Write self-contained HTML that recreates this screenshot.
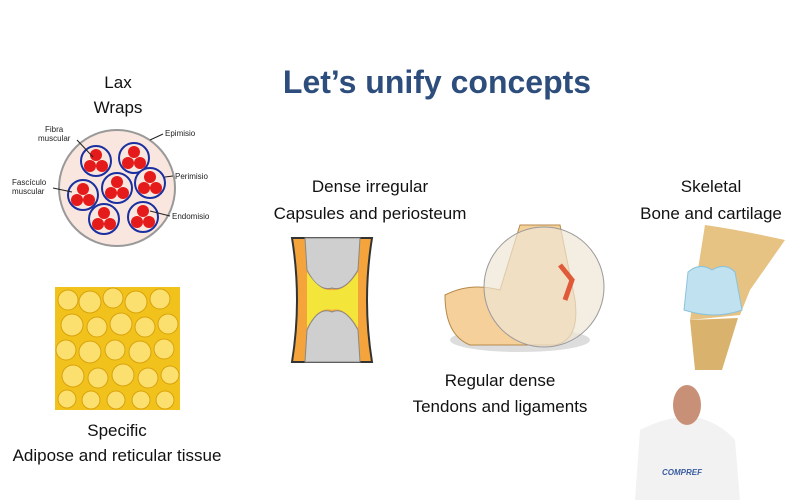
<!DOCTYPE html>
<html><head><style>
body{margin:0;width:800px;height:500px;background:#fff;overflow:hidden;position:relative;font-family:"Liberation Sans",sans-serif}
.t{position:absolute;transform:translateX(-50%);white-space:nowrap;font-size:17px;color:#111}
</style></head><body>
<div class="t" style="left:437px;top:64px;font-size:32px;font-weight:bold;color:#2d4d7c">Let’s unify concepts</div>
<div class="t" style="left:118px;top:73px">Lax</div>
<div class="t" style="left:118px;top:98px">Wraps</div>
<div class="t" style="left:370px;top:177px">Dense irregular</div>
<div class="t" style="left:370px;top:204px">Capsules and periosteum</div>
<div class="t" style="left:711px;top:177px">Skeletal</div>
<div class="t" style="left:711px;top:204px">Bone and cartilage</div>
<div class="t" style="left:500px;top:371px">Regular dense</div>
<div class="t" style="left:500px;top:397px">Tendons and ligaments</div>
<div class="t" style="left:117px;top:421px">Specific</div>
<div class="t" style="left:117px;top:446px">Adipose and reticular tissue</div>
<svg width="800" height="500" style="position:absolute;left:0;top:0">
<g font-size="8" fill="#222" font-family="Liberation Sans">
<circle cx="117" cy="188" r="58" fill="#f9e6de" stroke="#999" stroke-width="2"/>
<g stroke="#1a2fa0" stroke-width="2" fill="#f9e6de">
<circle cx="96" cy="161" r="15"/><circle cx="134" cy="158" r="15"/>
<circle cx="83" cy="195" r="15"/><circle cx="117" cy="188" r="15"/><circle cx="150" cy="183" r="15"/>
<circle cx="104" cy="219" r="15"/><circle cx="143" cy="217" r="15"/></g>
<g fill="#e51a1a">
<circle cx="96" cy="155" r="6"/><circle cx="90" cy="166" r="6"/><circle cx="102" cy="166" r="6"/>
<circle cx="134" cy="152" r="6"/><circle cx="128" cy="163" r="6"/><circle cx="140" cy="163" r="6"/>
<circle cx="83" cy="189" r="6"/><circle cx="77" cy="200" r="6"/><circle cx="89" cy="200" r="6"/>
<circle cx="117" cy="182" r="6"/><circle cx="111" cy="193" r="6"/><circle cx="123" cy="193" r="6"/>
<circle cx="150" cy="177" r="6"/><circle cx="144" cy="188" r="6"/><circle cx="156" cy="188" r="6"/>
<circle cx="104" cy="213" r="6"/><circle cx="98" cy="224" r="6"/><circle cx="110" cy="224" r="6"/>
<circle cx="143" cy="211" r="6"/><circle cx="137" cy="222" r="6"/><circle cx="149" cy="222" r="6"/></g>
<g stroke="#222" stroke-width="1"><line x1="77" y1="140" x2="93" y2="157"/><line x1="150" y1="140" x2="163" y2="134"/><line x1="165" y1="177" x2="173" y2="176"/><line x1="150" y1="211" x2="170" y2="216"/><line x1="53" y1="188" x2="72" y2="192"/></g>
<text x="45" y="132">Fibra</text><text x="38" y="141">muscular</text>
<text x="165" y="136">Epimisio</text><text x="175" y="179">Perimisio</text><text x="172" y="219">Endomisio</text>
<text x="12" y="185">Fascículo</text><text x="12" y="194">muscular</text></g>
<rect x="55" y="287" width="125" height="123" fill="#f2c21c"/>
<g fill="#fbe070" stroke="#d9a20a" stroke-width="1">
<circle cx="68" cy="300" r="10"/><circle cx="90" cy="302" r="11"/><circle cx="113" cy="298" r="10"/><circle cx="136" cy="302" r="11"/><circle cx="160" cy="299" r="10"/>
<circle cx="72" cy="325" r="11"/><circle cx="97" cy="327" r="10"/><circle cx="121" cy="324" r="11"/><circle cx="145" cy="327" r="10"/><circle cx="168" cy="324" r="10"/>
<circle cx="66" cy="350" r="10"/><circle cx="90" cy="352" r="11"/><circle cx="115" cy="350" r="10"/><circle cx="140" cy="352" r="11"/><circle cx="164" cy="349" r="10"/>
<circle cx="73" cy="376" r="11"/><circle cx="98" cy="378" r="10"/><circle cx="123" cy="375" r="11"/><circle cx="148" cy="378" r="10"/><circle cx="170" cy="375" r="9"/>
<circle cx="67" cy="399" r="9"/><circle cx="91" cy="400" r="9"/><circle cx="116" cy="400" r="9"/><circle cx="141" cy="400" r="9"/><circle cx="165" cy="400" r="9"/></g>
<path d="M292 238 Q302 300 292 362 L372 362 Q362 300 372 238 Z" fill="#f4a43a" stroke="#333" stroke-width="2"/>
<path d="M305 238 L360 238 L358 270 Q345 292 332 288 Q318 292 307 270 Z" fill="#cfcfcf" stroke="#888"/>
<path d="M307 330 Q318 306 332 312 Q345 306 358 330 L360 362 L305 362 Z" fill="#cfcfcf" stroke="#888"/>
<path d="M307 272 Q320 292 332 290 Q345 292 358 272 L358 328 Q345 306 332 310 Q318 306 307 328 Z" fill="#f3e53a"/>
<ellipse cx="520" cy="340" rx="70" ry="12" fill="#ddd"/>
<path d="M445 295 Q470 282 500 290 L520 225 L560 225 L575 300 Q580 340 555 345 L470 345 Q445 335 445 295 Z" fill="#f6d09a" stroke="#b58a4a"/>
<circle cx="544" cy="287" r="60" fill="#efe6d4" fill-opacity="0.7" stroke="#999"/>
<path d="M560 265 L572 280 L565 300" stroke="#e05a3a" stroke-width="5" fill="none"/>
<path d="M705 225 Q740 230 785 240 L750 290 L740 315 L690 320 Z" fill="#e6c283"/>
<path d="M690 320 L738 318 L722 370 L695 370 Z" fill="#d9b26d"/>
<path d="M688 272 Q700 262 712 270 Q725 262 735 272 L742 310 Q715 320 684 310 Z" fill="#bfe1f0" stroke="#8cc3dc"/>
<path d="M635 500 L640 430 Q660 420 675 418 L700 418 Q722 425 735 440 L740 500 Z" fill="#f2f2f2"/>
<ellipse cx="687" cy="405" rx="14" ry="20" fill="#c89077"/>
<text x="662" y="475" font-size="8" fill="#3a5ca0" font-style="italic" font-weight="bold">COMPREF</text>
</svg>
</body></html>
